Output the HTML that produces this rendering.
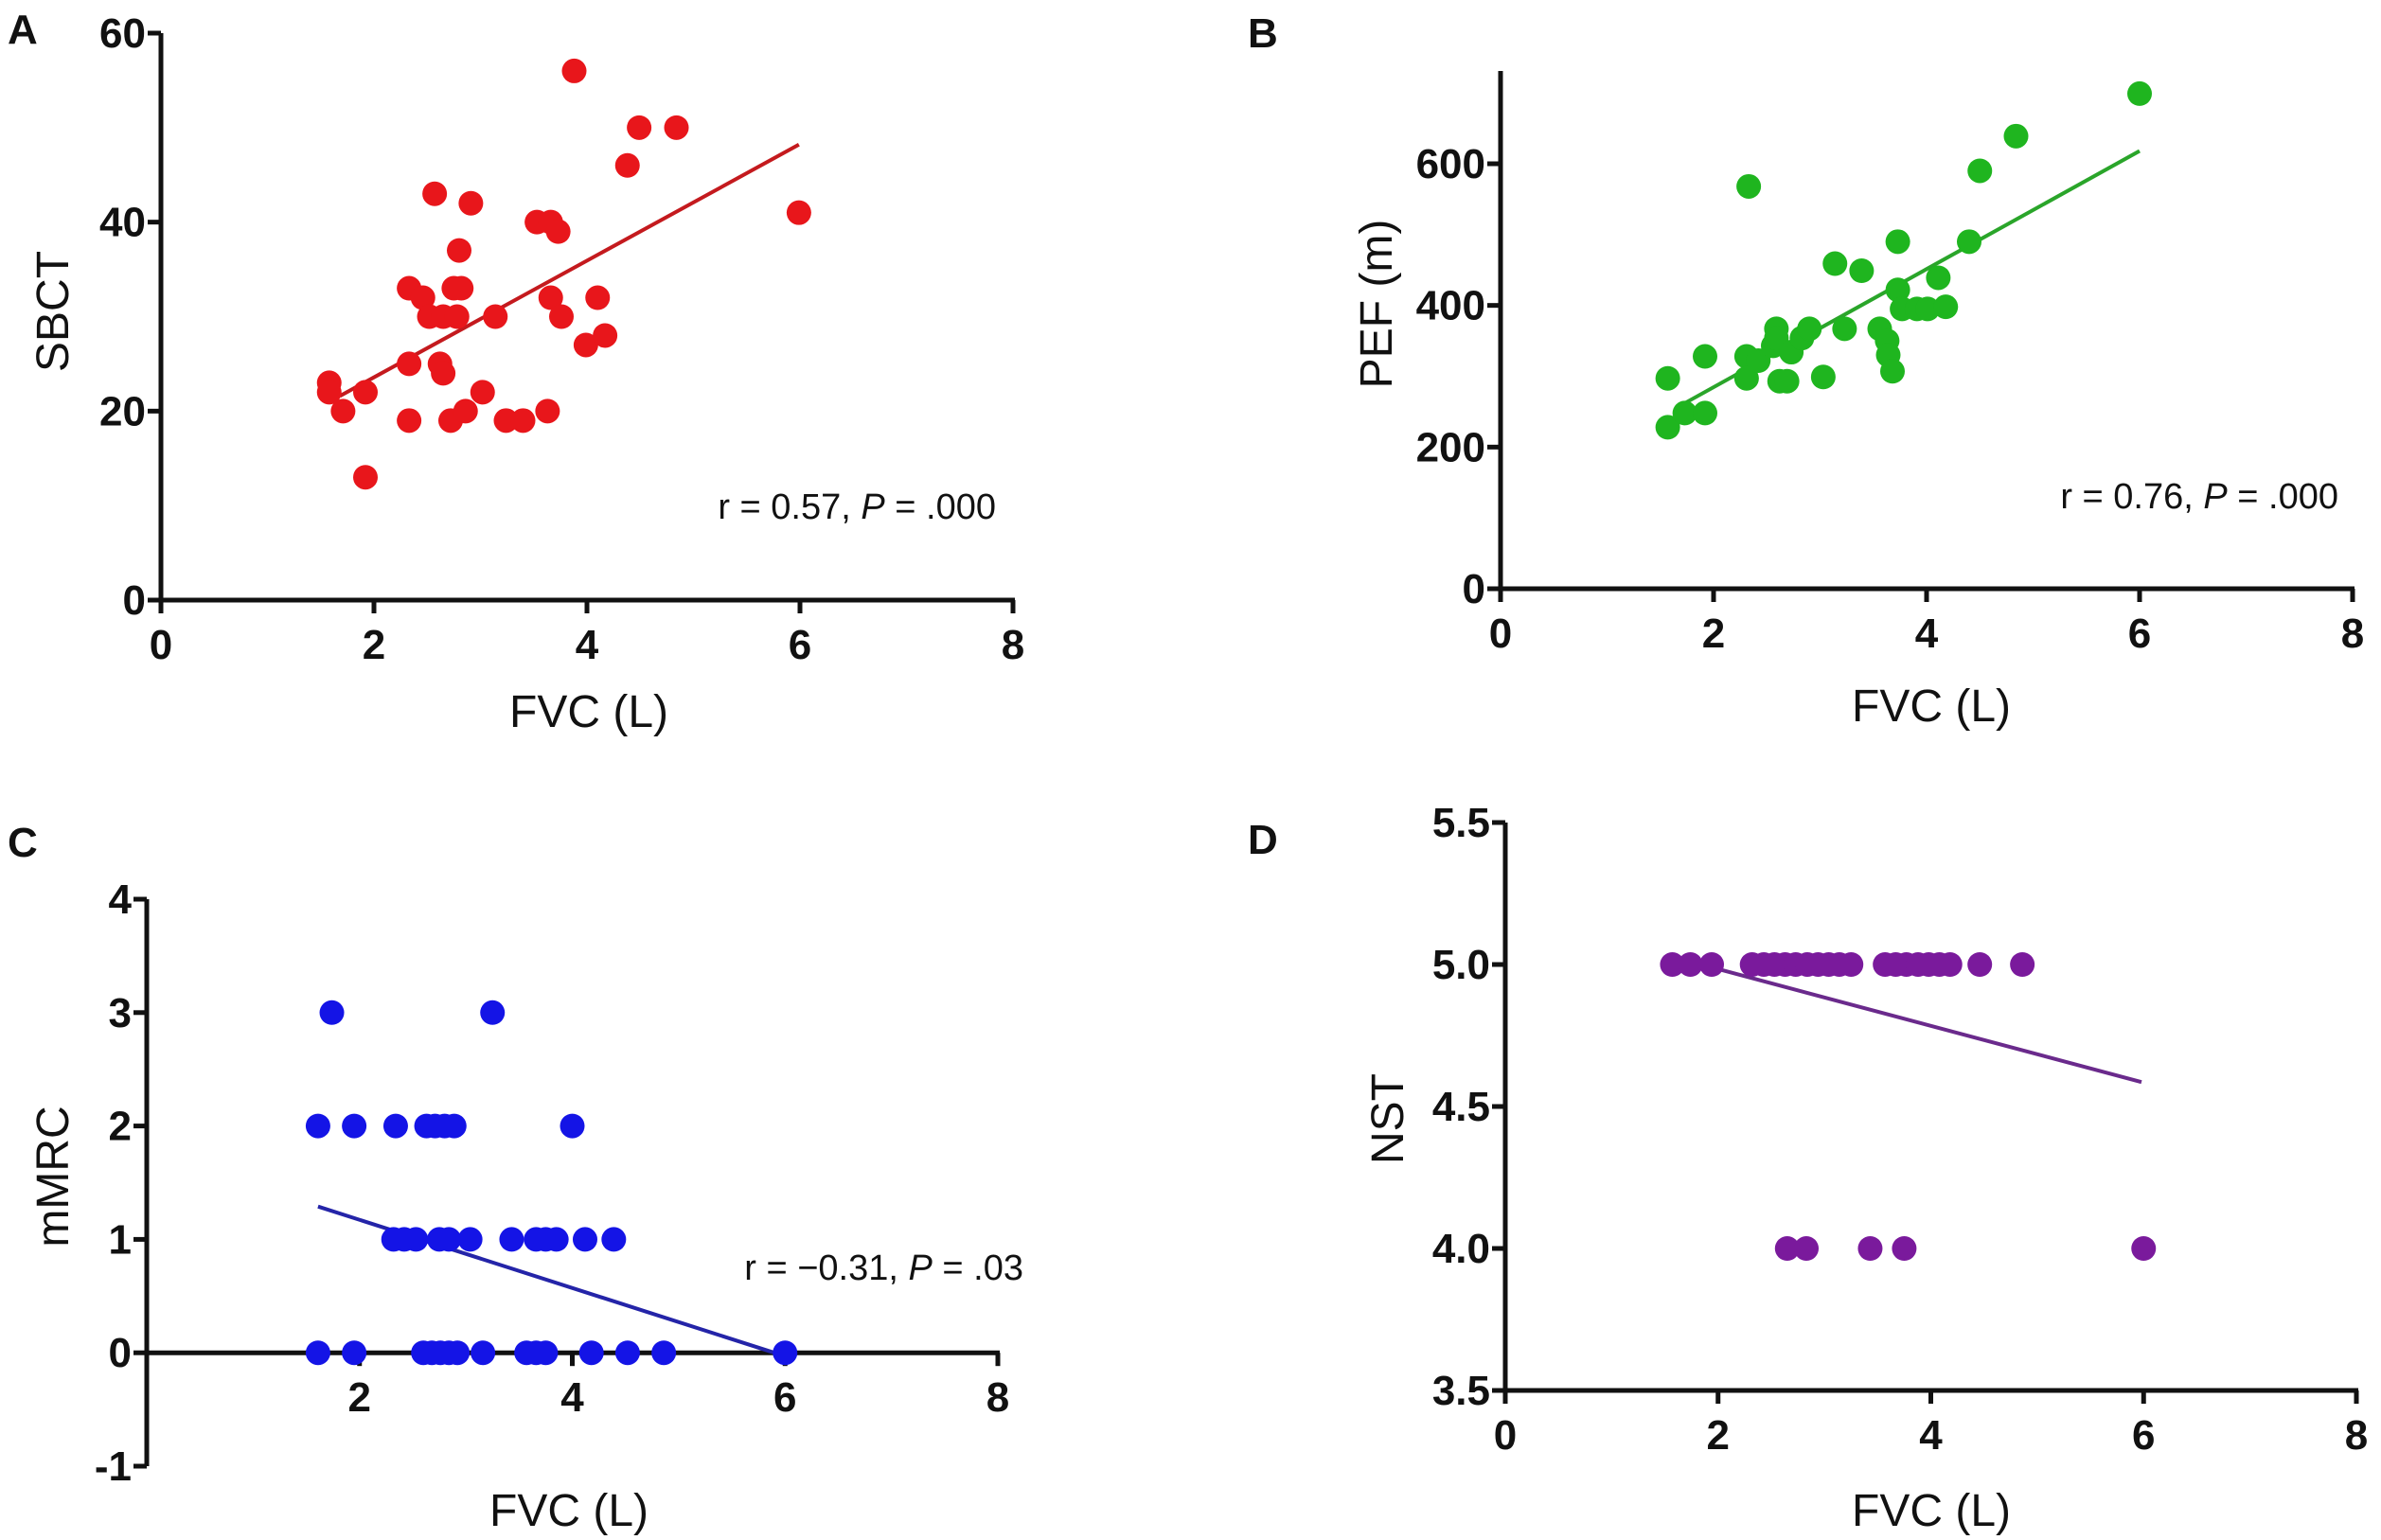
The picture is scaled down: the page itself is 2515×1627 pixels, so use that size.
<!DOCTYPE html>
<html><head><meta charset="utf-8"><style>
html,body{margin:0;padding:0;background:#fff;}
svg{display:block;}
.tick{font-family:"Liberation Sans Narrow","Liberation Sans",sans-serif;font-weight:bold;font-size:44px;fill:#111;}
.title{font-family:"Liberation Sans",sans-serif;font-size:48px;fill:#111;}
.ann{font-family:"Liberation Sans Narrow","Liberation Sans",sans-serif;font-size:38px;fill:#111;}
.letter{font-family:"Liberation Sans",sans-serif;font-weight:bold;font-size:44px;fill:#111;}
</style></head><body>
<svg id="fig" width="2515" height="1627" viewBox="0 0 2515 1627" xmlns="http://www.w3.org/2000/svg"></svg>
<script>
// Panel A: SBCT vs FVC
const aX=[1.58,1.58,1.71,1.92,1.92,2.33,2.46,2.33,2.33,2.57,2.91,2.80,2.75,2.82,2.52,2.65,2.78,2.62,2.65,2.72,2.86,3.02,3.14,3.24,3.40,3.53,3.66,3.73,3.66,3.76,3.63,3.88,3.99,4.10,4.17,4.38,4.49,4.84,5.99];
const aY=[23,22,20,22,13,33,32,25,19,43,42,37,33,33,30,30,30,25,24,19,20,22,30,19,19,40,40,39,32,30,20,56,27,32,28,46,50,50,41];
const aFit=[[1.68,21.6],[5.99,48.2]];
// Panel B: PEF vs FVC
const bX=[1.57,1.57,1.73,1.92,1.92,2.33,2.31,2.31,2.42,2.56,2.59,2.59,2.62,2.69,2.73,2.83,2.90,3.03,3.14,3.23,3.39,3.56,3.63,3.64,3.68,3.73,3.73,3.77,3.91,4.01,4.11,4.18,4.40,4.50,4.84,6.0];
const bY=[228,297,248,248,328,568,328,297,322,343,367,354,293,293,334,354,367,299,459,367,449,367,350,330,307,490,422,395,395,395,439,398,490,590,639,699];
const bFit=[[1.73,262],[6.0,618]];
// Panel C: mMRC vs FVC
const cX=[1.74,3.25,1.61,1.95,2.34,2.63,2.71,2.80,2.89,4.0,2.32,2.42,2.53,2.75,2.84,3.04,3.43,3.66,3.75,3.85,4.12,4.39,1.61,1.95,2.60,2.68,2.76,2.84,2.92,3.16,3.57,3.66,3.75,4.18,4.52,4.86,6.0];
const cY=[3,3,2,2,2,2,2,2,2,2,1,1,1,1,1,1,1,1,1,1,1,1,0,0,0,0,0,0,0,0,0,0,0,0,0,0,0];
const cFit=[[1.61,1.29],[5.9,0]];
// Panel D: NST vs FVC
const dX=[1.57,1.74,1.94,2.32,2.43,2.53,2.63,2.73,2.84,2.94,3.04,3.14,3.25,3.57,3.67,3.77,3.88,3.98,4.08,4.18,4.46,4.86,2.65,2.83,3.43,3.75,6.0];
const dY=[5,5,5,5,5,5,5,5,5,5,5,5,5,5,5,5,5,5,5,5,5,5,4,4,4,4,4];
const dFit=[[1.98,4.986],[5.98,4.586]];
const xTicksFull=["0","2","4","6","8"];
const xTicksC=["2","4","6","8"];
const yTicksA=["0","20","40","60"];
const yTicksB=["0","200","400","600"];
const yTicksC=["-1","0","1","2","3","4"];
const yTicksD=["3.5","4.0","4.5","5.0","5.5"];

const NS="http://www.w3.org/2000/svg";
const svg=document.getElementById('fig');
function mk(tag,attrs,parent){const e=document.createElementNS(NS,tag);for(const k in attrs)e.setAttribute(k,attrs[k]);(parent||svg).appendChild(e);return e;}

function panel(o){
  const g=mk('g',{});
  
  
  const sx=v=>o.px0+(v-o.xmin)*(o.px1-o.px0)/(o.xmax-o.xmin);
  const sy=v=>o.py0+(v-o.ymin)*(o.py1-o.py0)/(o.ymax-o.ymin);
  const axY=o.xAxisAt!==undefined?sy(o.xAxisAt):o.py0;
  const ya=mk('line',{x1:o.px0,y1:o.yTop,x2:o.px0,y2:o.py0,stroke:'#111','stroke-width':5},g);
  
  const xa=mk('line',{x1:o.px0,y1:axY,x2:o.px1+2,y2:axY,stroke:'#111','stroke-width':5},g);
  
  o.yTicks.forEach(t=>{const v=parseFloat(t);const y=sy(v);
    mk('line',{x1:o.px0-14,y1:y,x2:o.px0,y2:y,stroke:'#111','stroke-width':5},g);
    const tx=mk('text',{x:o.px0-16,y:y+15,'text-anchor':'end',class:'tick'},g);tx.textContent=t;
    });
  o.xTicks.forEach(t=>{const v=parseFloat(t);const x=sx(v);
    mk('line',{x1:x,y1:axY,x2:x,y2:axY+14,stroke:'#111','stroke-width':5},g);
    const tx=mk('text',{x:x,y:axY+62,'text-anchor':'middle',class:'tick'},g);tx.textContent=t;
    });
  const fl=mk('line',{x1:sx(o.fit[0][0]),y1:sy(o.fit[0][1]),x2:sx(o.fit[1][0]),y2:sy(o.fit[1][1]),stroke:o.lc,'stroke-width':4},g);
  
  o.xs.forEach((xv,i)=>{const c=mk('circle',{cx:sx(xv),cy:sy(o.ys[i]),r:13,fill:o.c},g);
    });
  const xt=mk('text',{x:o.xtPos[0],y:o.xtPos[1],'text-anchor':'middle',class:'title'},g);xt.textContent='FVC (L)';
  
  const yt=mk('text',{x:0,y:0,'text-anchor':'middle',class:'title',transform:`translate(${o.ytPos[0]},${o.ytPos[1]}) rotate(-90)`},g);yt.textContent=o.ytitle;
  
  const lt=mk('text',{x:o.letter[0],y:o.letter[1],class:'letter'},g);lt.textContent=o.L;
  
  if(o.ann){const a=mk('text',{x:o.ann[0],y:o.ann[1],'text-anchor':'end',class:'ann'},g);
    a.innerHTML=o.ann[2]+', <tspan font-style="italic">P</tspan> = '+o.ann[3];
    }
}
panel({name:'panel-a',L:'A',letter:[8,46],xmin:0,xmax:8,ymin:0,ymax:60,px0:170,px1:1070,py0:634,py1:35,yTop:35,
  xs:aX,ys:aY,fit:aFit,c:'#e8161b',lc:'#c41a1e',xTicks:xTicksFull,yTicks:yTicksA,ytitle:'SBCT',ytPos:[72,329],xtPos:[622,768],
  ann:[1052,548,'r = 0.57','.000']});
panel({name:'panel-b',L:'B',letter:[1318,50],xmin:0,xmax:8,ymin:0,ymax:600,px0:1585,px1:2485,py0:622,py1:173,yTop:75,
  xs:bX,ys:bY,fit:bFit,c:'#1fb51f',lc:'#2aa52a',xTicks:xTicksFull,yTicks:yTicksB,ytitle:'PEF (m)',ytPos:[1470,321],xtPos:[2040,762],
  ann:[2470,537,'r = 0.76','.000']});
panel({name:'panel-c',L:'C',letter:[8,905],xmin:0,xmax:8,ymin:-1,ymax:4,px0:155,px1:1054,py0:1549,py1:950,yTop:950,xAxisAt:0,
  xs:cX,ys:cY,fit:cFit,c:'#1414e6',lc:'#2424a8',xTicks:xTicksC,yTicks:yTicksC,ytitle:'mMRC',ytPos:[72,1243],xtPos:[601,1612],
  ann:[1081,1352,'r = \u22120.31','.03']});
panel({name:'panel-d',L:'D',letter:[1318,902],xmin:0,xmax:8,ymin:3.5,ymax:5.5,px0:1590,px1:2489,py0:1469,py1:869,yTop:869,
  xs:dX,ys:dY,fit:dFit,c:'#7a1a9c',lc:'#6a2a8c',xTicks:xTicksFull,yTicks:yTicksD,ytitle:'NST',ytPos:[1482,1182],xtPos:[2040,1612]});
</script>
</body></html>
